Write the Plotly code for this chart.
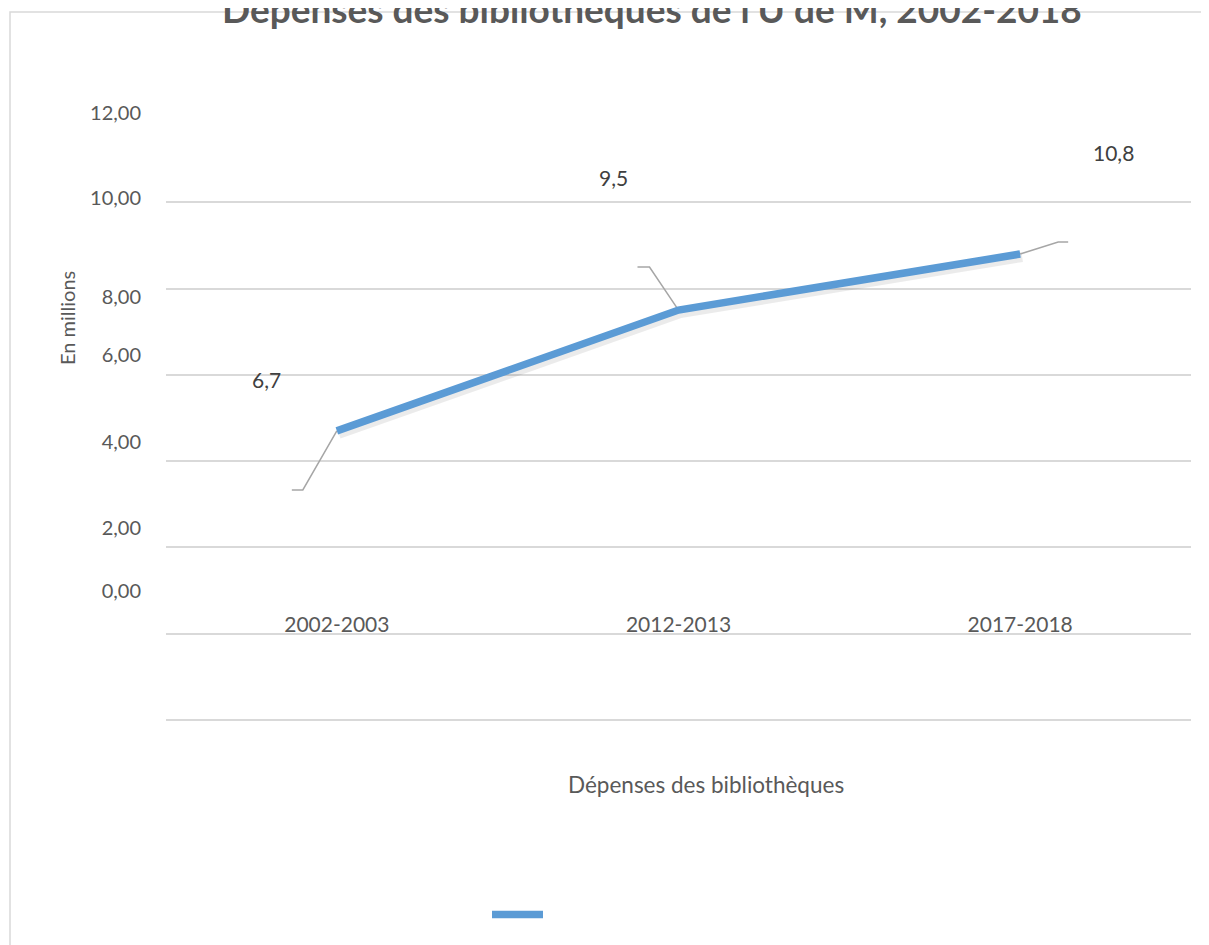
import plotly.graph_objects as go

# ---- data ----
categories = ["2002-2003", "2012-2013", "2017-2018"]
depenses = [6.7, 9.5, 10.8]
value_labels = ["6,7", "9,5", "10,8"]
grid_values = [0, 2, 4, 6, 8, 10, 12]
ytick_labels = ["12,00", "10,00", "8,00", "6,00", "4,00", "2,00", "0,00"]

title_text = "Dépenses des bibliothèques de l'U de M, 2002-2018"
series_name = "Dépenses des bibliothèques"
yaxis_title = "En millions"

# ---- layout geometry ----
# the page body has an 8px margin; figure is sized to fit the 1209x945 window
OFF = 8
W, H = 1209 - OFF, 945 - OFF


def fx(px):  # window px -> paper x
    return (px - OFF) / W


def fy(py):  # window py -> paper y
    return 1 - (py - OFF) / H


plot_left, plot_right = 166, 1191
zero_px, plot_top = 720, 100
pad_px = 3  # extra room below the zero gridline so it is drawn
px_per_unit_y = 43.15
n = len(categories)
px_per_unit_x = (plot_right - plot_left) / n
y_max = (zero_px - plot_top) / px_per_unit_y
y_min = -pad_px / px_per_unit_y
xs = list(range(n))

# window rows where the (displaced) y tick labels sit
ytick_label_px = [113, 198, 297, 355, 442, 528, 591]
ytick_label_pos = [(zero_px - p) / px_per_unit_y for p in ytick_label_px]

# data label offsets (px) and leader line offsets (px, screen coords, y down)
label_shift = [(-70, 51), (-65, 133), (93, 101)]
leader_offsets = [
    [(0, 0), (-34, 59), (-45, 59)],
    [(0, 0), (-29, -43), (-41, -43)],
    [(0, 0), (38, -12), (48, -12)],
]

blue = "#5B9BD5"
text_grey = "#595959"
grid_grey = "#D9D9D9"
font_family = "Lato"

fig = go.Figure()

# soft shadow under the line
fig.add_trace(go.Scatter(
    x=[x + 2 / px_per_unit_x for x in xs],
    y=[v - 3 / px_per_unit_y for v in depenses],
    mode="lines", line=dict(color="rgba(0,0,0,0.08)", width=10),
    showlegend=False, hoverinfo="skip", xaxis="x", yaxis="y"))

# leader lines
for i, offs in enumerate(leader_offsets):
    fig.add_trace(go.Scatter(
        x=[xs[i] + dx / px_per_unit_x for dx, dy in offs],
        y=[depenses[i] - dy / px_per_unit_y for dx, dy in offs],
        mode="lines", line=dict(color="#A6A6A6", width=1.5),
        showlegend=False, hoverinfo="skip", xaxis="x", yaxis="y"))

# main line
fig.add_trace(go.Scatter(
    x=xs, y=depenses, mode="lines", name=" ",
    line=dict(color=blue, width=7.5),
    showlegend=True, xaxis="x", yaxis="y"))

# invisible trace for the overlaid label axis
fig.add_trace(go.Scatter(x=[xs[0]], y=[0], mode="markers", opacity=0,
                         showlegend=False, hoverinfo="skip",
                         xaxis="x", yaxis="y2"))

# data labels
for i, (lab, (dx, dy)) in enumerate(zip(value_labels, label_shift)):
    fig.add_annotation(x=xs[i], y=depenses[i], text=lab, showarrow=False,
                       xshift=dx, yshift=dy, xref="x", yref="y",
                       xanchor="center", yanchor="middle",
                       font=dict(family=font_family, size=21, color="#404040"))

fig.add_annotation(x=fx(67), y=fy(318), xref="paper", yref="paper",
                   text=yaxis_title, textangle=-90, showarrow=False,
                   xanchor="center", yanchor="middle",
                   font=dict(family=font_family, size=20, color=text_grey))
fig.add_annotation(x=fx(706), y=fy(784), xref="paper", yref="paper",
                   text=series_name, showarrow=False,
                   xanchor="center", yanchor="middle",
                   font=dict(family=font_family, size=22.5, color=text_grey))

# chart title (top is cut by the window edge as in the reference)
fig.add_annotation(x=fx(652), y=fy(9), xref="paper", yref="paper",
                   text=title_text, showarrow=False,
                   xanchor="center", yanchor="middle",
                   font=dict(family=font_family, size=37, color=text_grey,
                             weight="bold"))

# chart border
fig.add_shape(type="rect", xref="paper", yref="paper",
              x0=fx(10), x1=1.02, y0=-0.02, y1=fy(12),
              line=dict(color=grid_grey, width=1.5), layer="below")

fig.update_layout(
    width=W, height=H,
    margin=dict(l=0, r=0, t=0, b=0),
    paper_bgcolor="white", plot_bgcolor="white",
    xaxis=dict(domain=[fx(plot_left), fx(plot_right)],
               range=[-0.5, n - 0.5],
               tickvals=xs, ticktext=categories,
               anchor="free", position=fy(610),
               showgrid=False, zeroline=False, showline=False, ticks="",
               tickfont=dict(family=font_family, size=21, color=text_grey)),
    yaxis=dict(domain=[fy(zero_px + pad_px), fy(plot_top)],
               range=[y_min, y_max],
               tickvals=grid_values, showticklabels=False,
               showgrid=True, gridcolor=grid_grey, gridwidth=1.5,
               zeroline=False, showline=False, ticks=""),
    yaxis2=dict(domain=[fy(zero_px + pad_px), fy(plot_top)],
                overlaying="y", side="left", anchor="x",
                range=[y_min, y_max],
                tickvals=ytick_label_pos, ticktext=ytick_labels,
                showgrid=False, zeroline=False, showline=False,
                ticks="outside", ticklen=20, tickcolor="rgba(0,0,0,0)",
                tickfont=dict(family=font_family, size=20, color=text_grey)),
    legend=dict(orientation="h", x=fx(487), xanchor="left",
                y=fy(915), yanchor="middle", itemwidth=51,
                bgcolor="rgba(0,0,0,0)",
                font=dict(family=font_family, size=14)),
    showlegend=True,
)

fig.write_html("out.html")
